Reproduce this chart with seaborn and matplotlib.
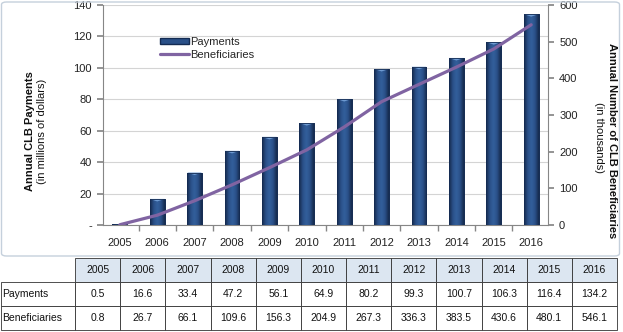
import numpy as np
import pandas as pd
import matplotlib
matplotlib.use("Agg")
import matplotlib.pyplot as plt
from matplotlib.patches import FancyBboxPatch, Patch, Polygon
from matplotlib.lines import Line2D
from matplotlib.colors import LinearSegmentedColormap
import seaborn as sns

years = ["2005", "2006", "2007", "2008", "2009", "2010", "2011", "2012", "2013", "2014", "2015", "2016"]
payments = [0.5, 16.6, 33.4, 47.2, 56.1, 64.9, 80.2, 99.3, 100.7, 106.3, 116.4, 134.2]
beneficiaries = [0.8, 26.7, 66.1, 109.6, 156.3, 204.9, 267.3, 336.3, 383.5, 430.6, 480.1, 546.1]
left_ticks = [0, 20, 40, 60, 80, 100, 120, 140]
left_labels = ["-", "20", "40", "60", "80", "100", "120", "140"]
right_ticks = [0, 100, 200, 300, 400, 500, 600]

sns.set_theme(style="white")
plt.rcParams['font.family'] = ['Liberation Sans', 'DejaVu Sans']

W, H = 623, 332
fig = plt.figure(figsize=(W / 100, H / 100), dpi=100)

# chart border
fig.patches.append(FancyBboxPatch((1.5 / W, 1 - 256 / H), 618 / W, 254 / H,
                                  boxstyle="round,pad=0,rounding_size=0.008",
                                  transform=fig.transFigure, fill=False,
                                  edgecolor="#c5d0dc", linewidth=1.0, zorder=0))

ax = fig.add_axes([103 / W, 1 - 225 / H, (548 - 103) / W, (225 - 5) / H])
df = pd.DataFrame({"year": years, "Payments": payments, "Beneficiaries": beneficiaries})

bar_color = "#23477c"
sns.barplot(data=df, x="year", y="Payments", color=bar_color, width=0.4,
            saturation=1, edgecolor="#142b52", linewidth=0.6, ax=ax, zorder=3)
ax.set_ylim(0, 140)
ax.set_xlim(-0.45, 11.45)

# cylinder-like shading for each bar
cmap = LinearSegmentedColormap.from_list(
    "cyl", ["#15294b", "#2a5088", "#33609c", "#2a5088", "#15294b"])
grad = np.linspace(0, 1, 64).reshape(1, -1)
for p in list(ax.patches):
    x0, y0 = p.get_x(), p.get_y()
    w, h = p.get_width(), p.get_height()
    if h <= 0:
        continue
    im = ax.imshow(grad, cmap=cmap, extent=[x0, x0 + w, y0, y0 + h],
                   aspect="auto", zorder=3.5, interpolation="bicubic")
    im.set_clip_path(p)
    cap_h = min(1.6, h)
    cap = Polygon([[x0, y0 + h], [x0 + w, y0 + h], [x0 + w * 0.5, y0 + h - cap_h]],
                  closed=True, facecolor="#6f9bd2", edgecolor="none", zorder=3.6)
    ax.add_patch(cap)
    edge = plt.Rectangle((x0, y0), w, h, fill=False, edgecolor="#142b52",
                         linewidth=0.6, zorder=3.7)
    ax.add_patch(edge)

ax.set_yticks(left_ticks)
ax.set_yticklabels(left_labels)
ax.grid(axis="y", color="#d4d4d4", linewidth=0.8, zorder=0)
ax.set_axisbelow(True)
ax.set_xlabel("")
ax.set_ylabel("")
for s in ["top", "right"]:
    ax.spines[s].set_visible(False)
for s in ["left", "bottom"]:
    ax.spines[s].set_color("#868686")
    ax.spines[s].set_linewidth(0.8)
ax.tick_params(axis="y", which="both", left=True, length=4, color="#868686",
               labelsize=8, pad=4, labelcolor="#222222")
ax.tick_params(axis="x", bottom=False, labelsize=8, pad=3, labelcolor="#222222")
ax.set_xticks(np.arange(-0.5, 12, 1), minor=True)
ax.tick_params(axis="x", which="minor", bottom=True, length=4, color="#868686")

ax2 = ax.twinx()
sns.lineplot(x=np.arange(len(years)), y=beneficiaries, color="#8064a2", linewidth=2.3,
             ax=ax2, zorder=5)
ax2.set_ylim(0, 600)
ax2.set_yticks(right_ticks)
ax2.set_xlim(-0.45, 11.45)
for s in ["top", "left", "bottom"]:
    ax2.spines[s].set_visible(False)
ax2.spines["right"].set_color("#868686")
ax2.spines["right"].set_linewidth(0.8)
ax2.tick_params(axis="y", right=True, length=4, color="#868686", labelsize=8, pad=4,
                labelcolor="#222222")
ax2.grid(False)

# legend
handles = [Patch(facecolor="#2a5088", edgecolor="#142b52"),
           Line2D([0], [0], color="#8064a2", linewidth=2.3)]
ax.legend(handles, ["Payments", "Beneficiaries"], loc="upper left",
          bbox_to_anchor=(0.115, 0.88), frameon=False, fontsize=8,
          handlelength=2.6, handleheight=0.45, labelspacing=0.25, borderpad=0,
          handletextpad=0.15)

# axis titles
fig.text(30 / W, 1 - 131 / H, "Annual CLB Payments", rotation=90, ha="center",
         va="center", fontsize=8, fontweight="bold", color="#111111")
fig.text(42 / W, 1 - 131 / H, "(in millions of dollars)", rotation=90, ha="center",
         va="center", fontsize=8, color="#111111")
fig.text(612 / W, 1 - 141 / H, "Annual Number of CLB Beneficiaries", rotation=-90,
         ha="center", va="center", fontsize=8, fontweight="bold", color="#111111")
fig.text(599 / W, 1 - 137 / H, "(in thousands)", rotation=-90, ha="center",
         va="center", fontsize=8, color="#111111")

# table
tax = fig.add_axes([1 / W, 1 - 330 / H, 616 / W, 72 / H])
tax.axis("off")
cell_text = [[""] + years,
             ["Payments"] + [f"{v:.1f}" for v in payments],
             ["Beneficiaries"] + [f"{v:.1f}" for v in beneficiaries]]
label_w = 74 / 616
col_w = (1 - label_w) / len(years)
tbl = tax.table(cellText=cell_text, colWidths=[label_w] + [col_w] * len(years),
                bbox=[0, 0, 1, 1], cellLoc="center")
tbl.auto_set_font_size(False)
for (r, c), cell in tbl.get_celld().items():
    cell.set_fontsize(7.5)
    cell.set_edgecolor("#333333")
    cell.set_linewidth(0.6)
    cell.get_text().set_color("#111111")
    if r == 0 and c == 0:
        cell.set_edgecolor("none")
        cell.visible_edges = ""
    elif r == 0:
        cell.set_facecolor("#dce6f1")
    if c == 0 and r > 0:
        cell.get_text().set_ha("left")
        cell.PAD = 0.02

fig.savefig("out.png", dpi=100)
